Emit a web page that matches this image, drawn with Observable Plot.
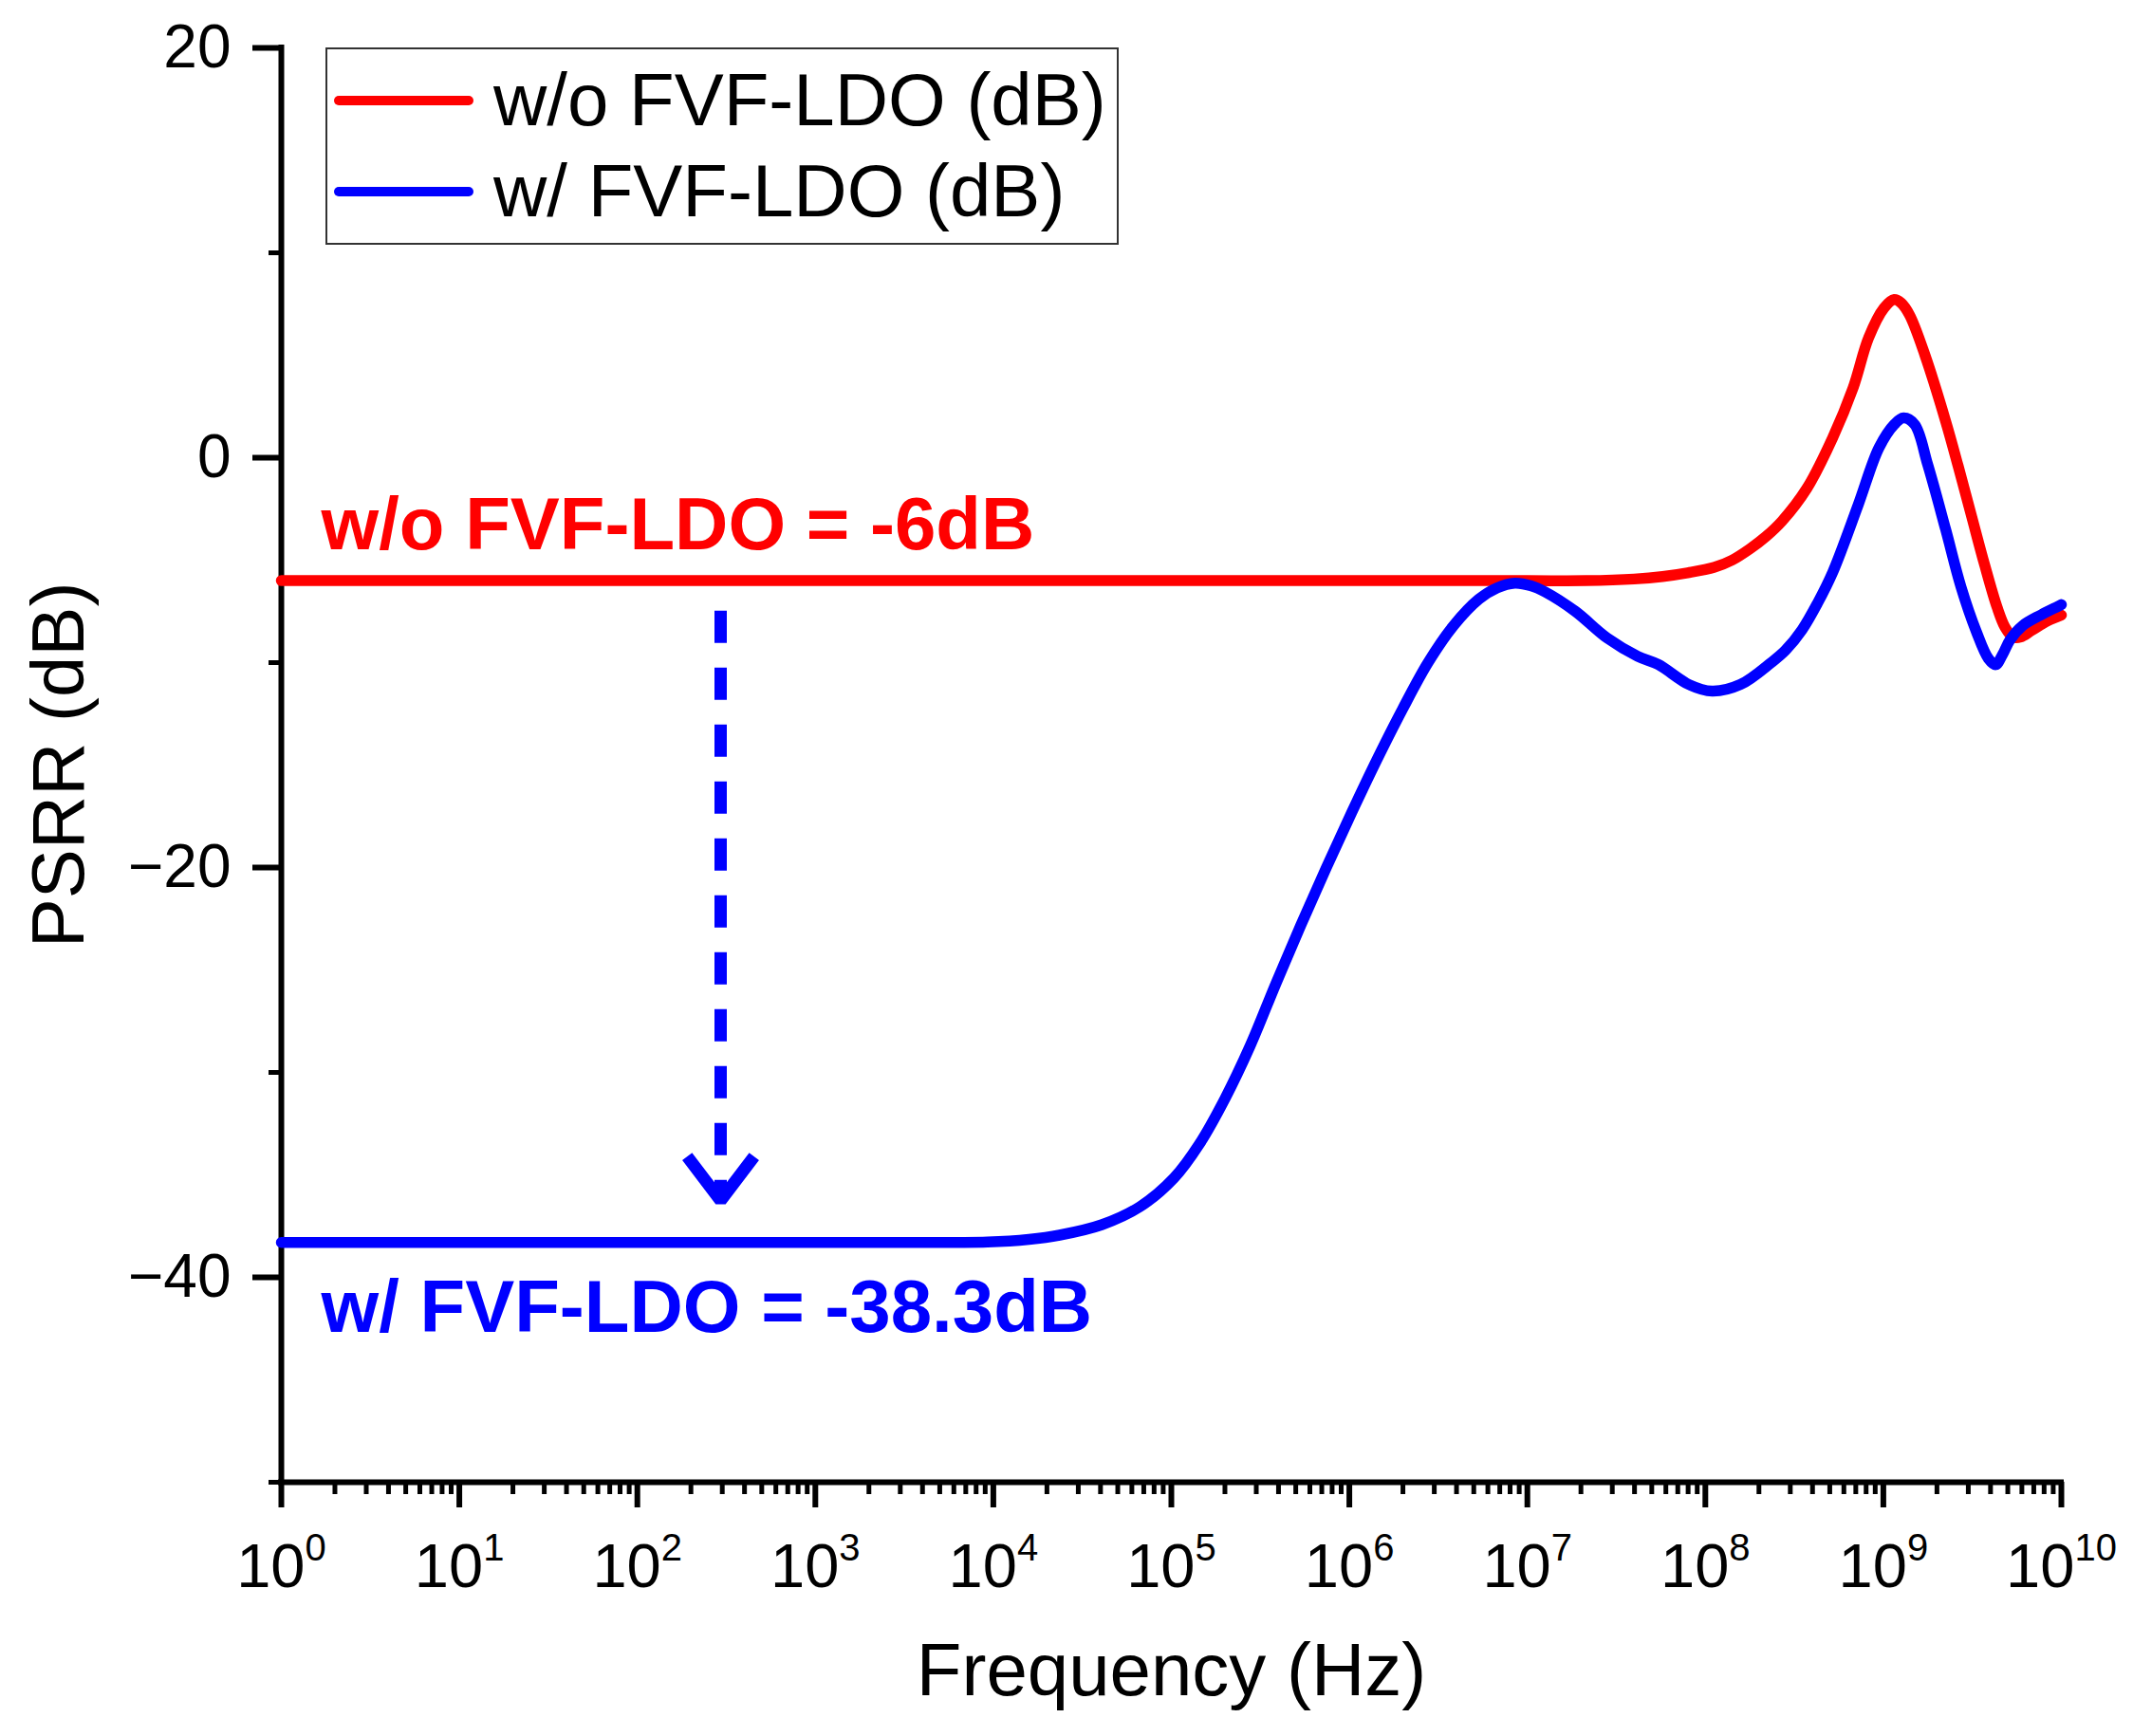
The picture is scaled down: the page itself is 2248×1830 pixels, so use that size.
<!DOCTYPE html>
<html>
<head>
<meta charset="utf-8">
<script src="https://cdn.jsdelivr.net/npm/d3@7"></script>
<script src="https://cdn.jsdelivr.net/npm/@observablehq/plot@0.6"></script>
<style>
  html, body { margin: 0; padding: 0; background: white; }
  #wrap { position: relative; width: 2248px; height: 1830px; }
  #legend { position: absolute; left: 343px; top: 50px; }
</style>
</head>
<body>
<div id="wrap"><div id="chart"></div></div>
<script>
const FONT = "'Liberation Sans', Arial, Helvetica, sans-serif";

// Series definitions
const seriesNames = ["w/o FVF-LDO (dB)", "w/ FVF-LDO (dB)"];
const seriesColors = ["#ff0000", "#0000ff"];

// w/o FVF-LDO: frequency exponent (log10 Hz) and PSRR (dB)
const woExp = [0, 1, 2, 3, 4, 5, 6, 7, 7.33, 7.6, 7.76, 7.9, 8.05, 8.15, 8.25, 8.34, 8.43, 8.57, 8.715, 8.83, 8.917, 9.004, 9.061, 9.1, 9.148, 9.234, 9.35, 9.42, 9.497, 9.568, 9.639, 9.684, 9.728, 9.771, 9.835, 9.924, 10];
const woDb = [-6, -6, -6, -6, -6, -6, -6, -6, -6.0, -5.92, -5.8, -5.62, -5.35, -5.0, -4.45, -3.85, -3.1, -1.5, 0.97, 3.41, 5.85, 7.31, 7.72, 7.55, 6.95, 5.0, 1.78, -0.4, -2.9, -5.2, -7.3, -8.28, -8.75, -8.75, -8.42, -7.96, -7.68];

// w/ FVF-LDO
const wExp = [0, 1, 2, 3, 3.5, 3.967, 4.2, 4.372, 4.61, 4.824, 5.015, 5.157, 5.3, 5.443, 5.586, 5.728, 5.871, 6.014, 6.157, 6.3, 6.442, 6.585, 6.728, 6.83, 6.93, 7.02, 7.1, 7.27, 7.447, 7.62, 7.735, 7.908, 8.038, 8.197, 8.37, 8.45, 8.543, 8.63, 8.715, 8.859, 8.975, 9.061, 9.113, 9.176, 9.249, 9.35, 9.436, 9.523, 9.59, 9.631, 9.67, 9.711, 9.782, 9.888, 9.977, 10];
const wDb = [-38.3, -38.3, -38.3, -38.3, -38.3, -38.28, -38.15, -37.94, -37.43, -36.55, -35.15, -33.5, -31.3, -28.7, -25.69, -22.8, -20.0, -17.3, -14.7, -12.25, -10.0, -8.2, -6.9, -6.35, -6.12, -6.25, -6.55, -7.5, -8.79, -9.69, -10.09, -11.07, -11.39, -11.07, -10.0, -9.4, -8.4, -7.1, -5.6, -2.29, 0.48, 1.62, 1.94, 1.62, -0.33, -3.5, -6.3, -8.5, -9.8, -10.1, -9.6, -8.9, -8.2, -7.66, -7.27, -7.17];

// Axes
const decadeExp = [0, 1, 2, 3, 4, 5, 6, 7, 8, 9, 10];
const minorMult = [2, 3, 4, 5, 6, 7, 8, 9];
const yMajor = [20, 0, -20, -40];
const yMinor = [10, -10, -30, -50];
const xDomain = [1, 1e10];
const yDomain = [-50, 20];
const xLabel = "Frequency (Hz)";
const yLabel = "PSRR (dB)";

// Annotations
const annoText = ["w/o FVF-LDO = -6dB", "w/ FVF-LDO = -38.3dB"];
const annoExp = [0.224, 0.224];
const annoDb = [-4.48, -42.68];

// Arrow (dashed shaft + head), in data units
const arrowExp = [2.468];
const arrowFromDb = [-7.49];
const arrowToDb = [-36.3];
const headExp = [2.28, 2.468, 2.656];
const headDb = [-34.1, -36.25, -34.1];

// Build tables
const table = [
  ...woExp.map((e, i) => ({series: seriesNames[0], hz: 10 ** e, db: woDb[i]})),
  ...wExp.map((e, i) => ({series: seriesNames[1], hz: 10 ** e, db: wDb[i]}))
];
const majorX = decadeExp.map(e => 10 ** e);
const minorX = decadeExp.slice(0, -1).flatMap(e => minorMult.map(m => m * 10 ** e));
const annos = annoText.map((t, i) => ({t, hz: 10 ** annoExp[i], db: annoDb[i], c: seriesColors[i]}));
const arrow = arrowExp.map((e, i) => ({hz: 10 ** e, y1: arrowFromDb[i], y2: arrowToDb[i]}));
const head = headExp.map((e, i) => ({hz: 10 ** e, db: headDb[i]}));

const fmtY = d => d < 0 ? "\u2212" + Math.abs(d) : String(d);

const chart = Plot.plot({
  width: 2248,
  height: 1830,
  marginLeft: 296,
  marginRight: 76,
  marginTop: 50,
  marginBottom: 268,
  style: {fontFamily: FONT, background: "white", color: "black"},
  x: {type: "log", domain: xDomain},
  y: {domain: yDomain},
  color: {domain: seriesNames, range: seriesColors},
  marks: [
    Plot.axisX(minorX, {tickSize: 13, strokeWidth: 5, tickFormat: () => "", label: null}),
    Plot.axisX(majorX, {tickSize: 27, strokeWidth: 6, tickPadding: 37, fontSize: 65,
      tickFormat: d => "10^" + Math.round(Math.log10(d)), label: null}),
    Plot.axisY(yMinor, {tickSize: 13, strokeWidth: 5, tickFormat: () => "", label: null}),
    Plot.axisY(yMajor, {tickSize: 30, strokeWidth: 6, tickPadding: 23, fontSize: 64, tickFormat: fmtY, label: null}),
    Plot.ruleY([yDomain[0]], {strokeWidth: 6, strokeLinecap: "square"}),
    Plot.ruleX([xDomain[0]], {strokeWidth: 6, strokeLinecap: "square"}),
    Plot.line(table, {x: "hz", y: "db", z: "series", stroke: "series", strokeWidth: 11.5, curve: "catmull-rom"}),
    Plot.text(annos, {x: "hz", y: "db", text: "t", fill: "c", fontSize: 78, fontWeight: "bold",
      textAnchor: "start", lineAnchor: "bottom"}),
    Plot.ruleX(arrow, {x: "hz", y1: "y1", y2: "y2", stroke: seriesColors[1], strokeWidth: 13,
      strokeDasharray: "34,26", strokeLinecap: "butt"}),
    Plot.line(head, {x: "hz", y: "db", stroke: seriesColors[1], strokeWidth: 13,
      strokeLinejoin: "miter", strokeLinecap: "butt"}),
    Plot.text([xLabel], {frameAnchor: "bottom", dy: 224, textAnchor: "middle", lineAnchor: "bottom", fontSize: 78}),
    Plot.text([yLabel], {frameAnchor: "left", dx: -209, rotate: -90, textAnchor: "middle", lineAnchor: "bottom", fontSize: 78})
  ]
});

// Superscript exponents for the decade labels
chart.querySelectorAll('g[aria-label="x-axis tick label"] text').forEach(t => {
  const s = t.textContent;
  if (!s.includes("^")) return;
  const [b, e] = s.split("^");
  t.textContent = "";
  const ns = "http://www.w3.org/2000/svg";
  const t1 = document.createElementNS(ns, "tspan");
  t1.textContent = b;
  const t2 = document.createElementNS(ns, "tspan");
  t2.textContent = e;
  t2.setAttribute("dy", "-28");
  t2.setAttribute("font-size", "40");
  t.appendChild(t1);
  t.appendChild(t2);
});

document.getElementById("chart").appendChild(chart);

// Legend box (inside the plot, top-left)
(function () {
  const ns = "http://www.w3.org/2000/svg";
  const W = 836, H = 208;
  const svg = document.createElementNS(ns, "svg");
  svg.setAttribute("id", "legend");
  svg.setAttribute("width", W);
  svg.setAttribute("height", H);
  svg.style.fontFamily = FONT;
  const rect = document.createElementNS(ns, "rect");
  rect.setAttribute("x", 1); rect.setAttribute("y", 1);
  rect.setAttribute("width", W - 2); rect.setAttribute("height", H - 2);
  rect.setAttribute("fill", "white"); rect.setAttribute("stroke", "#333"); rect.setAttribute("stroke-width", 2);
  svg.appendChild(rect);
  const rowY = [56, 152];
  seriesNames.forEach((name, i) => {
    const ln = document.createElementNS(ns, "line");
    ln.setAttribute("x1", 14); ln.setAttribute("x2", 151);
    ln.setAttribute("y1", rowY[i]); ln.setAttribute("y2", rowY[i]);
    ln.setAttribute("stroke", seriesColors[i]); ln.setAttribute("stroke-width", 10);
    ln.setAttribute("stroke-linecap", "round");
    svg.appendChild(ln);
    const tx = document.createElementNS(ns, "text");
    tx.setAttribute("x", 177); tx.setAttribute("y", rowY[i] + 26);
    tx.setAttribute("font-size", 78); tx.setAttribute("fill", "black");
    tx.textContent = name;
    svg.appendChild(tx);
  });
  document.getElementById("wrap").appendChild(svg);
})();
</script>
</body>
</html>
